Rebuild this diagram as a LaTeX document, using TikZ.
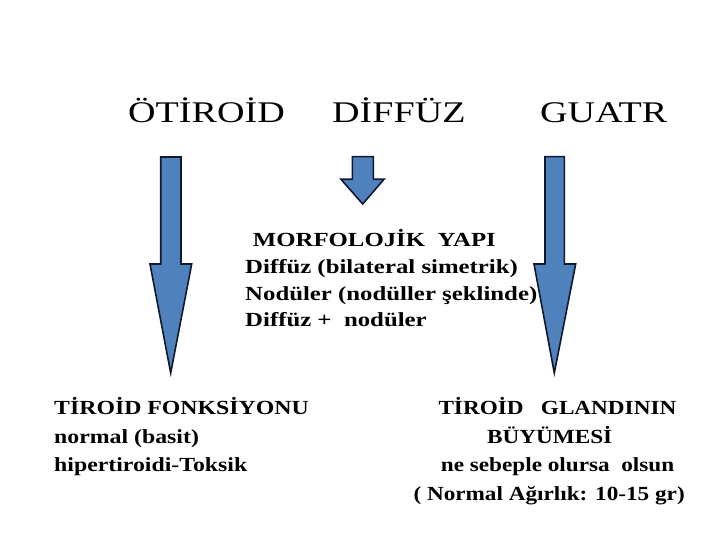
\documentclass[tikz,border=0pt]{standalone}
\usepackage{fontspec}
\setmainfont[FakeStretch=1.24]{Liberation Serif}
\newfontfamily\titlefont[FakeStretch=1.27]{Liberation Serif}
\newfontfamily\funcfont[FakeStretch=1.19]{Liberation Serif}
\newfontfamily\growfont[FakeStretch=1.16]{Liberation Serif}
\usetikzlibrary{calc}

\definecolor{arrowblue}{HTML}{4F81BD}
\definecolor{arrowline}{HTML}{0F1A2E}

\tikzset{
  blockarrow/.style={fill=arrowblue,draw=arrowline,line width=1.6pt,line join=miter},
  title/.style={anchor=base west,inner sep=0pt,font=\titlefont\fontsize{30}{34}\selectfont},
  txtblock/.style={anchor=base west,inner sep=0pt,align=left,font=\bfseries\fontsize{20}{28.5}\selectfont}
}

\begin{document}
\begin{tikzpicture}[x=1pt,y=-1pt]
    \useasboundingbox (0,0) rectangle (720,540);

    % titles
    \node[title] (otiroid) at (128,123) {ÖTİROİD};
    \node[title] (diffuz) at (332,123) {DİFFÜZ};
    \node[title] (guatr) at (540,123) {GUATR};

    % left arrow
    \draw[blockarrow] (160.7,157) -- (181,157) -- (181,264) -- (191.7,264)
        -- (170.7,373) -- (150,264) -- (160.7,264) -- cycle;

    % middle arrow
    \draw[blockarrow] (352.3,156.7) -- (373.3,156.7) -- (373.3,179.3) -- (384,179.3)
        -- (362.7,204) -- (341,179.3) -- (352.3,179.3) -- cycle;

    % right arrow
    \draw[blockarrow] (545,156.7) -- (564.3,156.7) -- (564.3,264) -- (575.7,264)
        -- (554.3,373) -- (534,264) -- (545,264) -- cycle;

    % morphology (anchored on last line)
    \node[txtblock,font=\bfseries\fontsize{20}{26.7}\selectfont] (morfoloji) at (245,326.7)
        {\hspace*{7.7pt}MORFOLOJİK\ \ YAPI\\
         Diffüz (bilateral simetrik)\\
         Nodüler (nodüller şeklinde)\\
         Diffüz + \ nodüler};

    % function
    \node[txtblock,font=\funcfont\bfseries\fontsize{20}{28.5}\selectfont] (fonksiyon) at (54,471.7)
        {TİROİD FONKSİYONU\\
         normal (basit)\\
         hipertiroidi-Toksik};

    % growth
    \node[txtblock,font=\growfont\bfseries\fontsize{20}{28.5}\selectfont] (buyume) at (413.3,500)
        {\hspace*{25pt}TİROİD\ \ \ GLANDININ\\
         \hspace*{73.7pt}BÜYÜMESİ\\
         \hspace*{27.4pt}ne sebeple olursa\ \ olsun\\
         ( Normal Ağırlık: 10-15 gr)};
\end{tikzpicture}
\end{document}
